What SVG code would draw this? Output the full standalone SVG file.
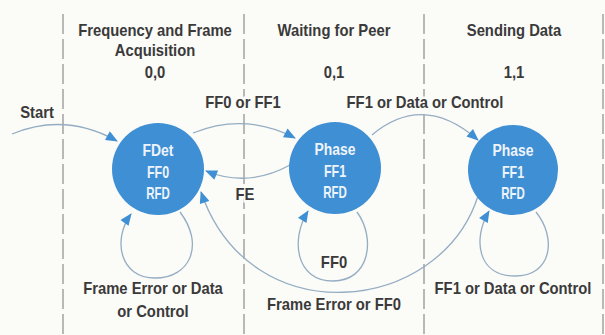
<svg xmlns="http://www.w3.org/2000/svg" width="605" height="335" viewBox="0 0 605 335">
<defs>
<style>
.t{font-family:"Liberation Sans",Arial,sans-serif;font-weight:bold;fill:#3a3a3a;font-size:17px;text-anchor:middle}
.h{paint-order:stroke;stroke:#fbfbf8;stroke-width:5px}
.n{font-family:"Liberation Sans",Arial,sans-serif;font-weight:bold;fill:#eef4fb;text-anchor:middle}
.c{fill:#3f8fd4}
.div{stroke:#8c8c8c;stroke-width:1.2;stroke-dasharray:20 5;fill:none}
.e{fill:none;stroke:#94adc2;stroke-width:1.3;marker-end:url(#ah)}
</style>
<marker id="ah" viewBox="0 0 12 10" refX="11" refY="5" markerWidth="13" markerHeight="10" markerUnits="userSpaceOnUse" orient="auto">
<path d="M0,0 L12,5 L0,10 Z" fill="#3f8fd4"/>
</marker>
</defs>
<rect width="605" height="335" fill="#fbfbf8"/>
<g id="dividers">
<line class="div" x1="63" y1="14" x2="63" y2="335"/>
<line class="div" x1="244" y1="14" x2="244" y2="335"/>
<line class="div" x1="424" y1="14" x2="424" y2="335"/>
<line class="div" x1="603" y1="14" x2="603" y2="335"/>
</g>
<g id="headers">
<text class="t" transform="translate(155,36) scale(.87,1)">Frequency and Frame</text>
<text class="t" transform="translate(155,56) scale(.87,1)">Acquisition</text>
<text class="t" transform="translate(155,78) scale(.87,1)">0,0</text>
<text class="t" transform="translate(334,36) scale(.87,1)">Waiting for Peer</text>
<text class="t" transform="translate(334,78) scale(.87,1)">0,1</text>
<text class="t" transform="translate(514,36) scale(.87,1)">Sending Data</text>
<text class="t" transform="translate(514,78) scale(.87,1)">1,1</text>
</g>
<g id="connectors">
<path class="e" d="M12,134 Q65,112 117,141"/>
<path class="e" d="M193,133 Q245,112 295,138"/>
<path class="e" d="M290,165 Q248,188 206,171"/>
<path class="e" d="M372,135 Q423,92 478,140"/>
<path class="e" d="M478,196 C440,315 250,335 201,192"/>
<path class="e" d="M180,212 C205,245 190,278 155,278 C120,278 112,240 131,214"/>
<path class="e" d="M357,212 C376,238 370,281 333,281 C296,281 290,240 308,211"/>
<path class="e" d="M536,212 C557,238 552,276 515,276 C478,276 472,240 489,211"/>
</g>
<g id="labels">
<text class="t" transform="translate(37,118) scale(.87,1)">Start</text>
<text class="t h" transform="translate(243,108) scale(.87,1)">FF0 or FF1</text>
<text class="t h" transform="translate(425,108) scale(.87,1)">FF1 or Data or Control</text>
<text class="t h" transform="translate(245,200) scale(.87,1)">FE</text>
<text class="t" transform="translate(334,268) scale(.87,1)">FF0</text>
<text class="t" transform="translate(153,294) scale(.87,1)">Frame Error or Data</text>
<text class="t" transform="translate(153,317) scale(.87,1)">or Control</text>
<text class="t" transform="translate(334,310) scale(.87,1)">Frame Error or FF0</text>
<text class="t" transform="translate(513,294) scale(.87,1)">FF1 or Data or Control</text>
</g>
<g id="node-fdet">
<circle class="c" cx="158" cy="169" r="46"/>
<text class="n" font-size="17" transform="translate(158,156) scale(.82,1)">FDet</text>
<text class="n" font-size="16" transform="translate(158,178) scale(.78,1)">FF0</text>
<text class="n" font-size="16" transform="translate(158,199) scale(.72,1)">RFD</text>
</g>
<g id="node-phase-wait">
<circle class="c" cx="335" cy="168" r="46"/>
<text class="n" font-size="17" transform="translate(335,155) scale(.82,1)">Phase</text>
<text class="n" font-size="16" transform="translate(335,177) scale(.78,1)">FF1</text>
<text class="n" font-size="16" transform="translate(335,198) scale(.72,1)">RFD</text>
</g>
<g id="node-phase-send">
<circle class="c" cx="513" cy="170" r="45"/>
<text class="n" font-size="17" transform="translate(513,156) scale(.82,1)">Phase</text>
<text class="n" font-size="16" transform="translate(513,178) scale(.78,1)">FF1</text>
<text class="n" font-size="16" transform="translate(513,199) scale(.72,1)">RFD</text>
</g>
</svg>
